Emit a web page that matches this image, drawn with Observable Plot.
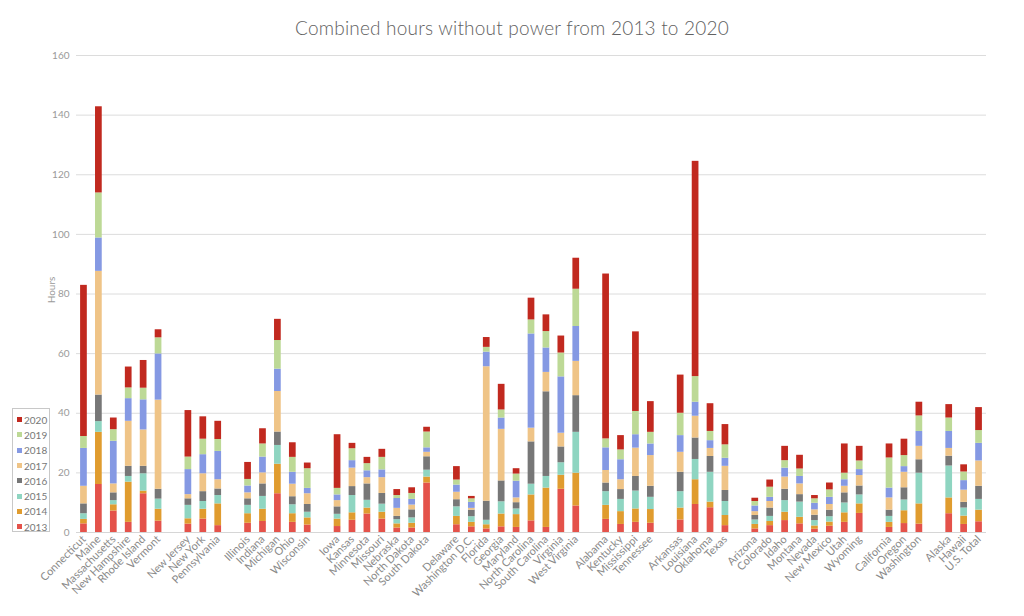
<!DOCTYPE html>
<html>
<head>
<meta charset="utf-8">
<script src="https://cdn.jsdelivr.net/npm/d3@7"></script>
<script src="https://cdn.jsdelivr.net/npm/@observablehq/plot@0.6"></script>
<style>
  body { margin: 0; background: #fff; font-family: Lato, "Open Sans", sans-serif; }
  #wrap { position: relative; width: 1024px; height: 616px; overflow: hidden; }
  #title { position: absolute; top: 16px; left: 0; width: 1024px; text-align: center;
           font-size: 19px; color: #616161; font-weight: 300; letter-spacing: 0.2px; }
  #chart { position: absolute; left: 0; top: 0; }
  #ylabel { position: absolute; left: 51px; top: 290px; transform: translate(-50%, -50%) rotate(-90deg);
            font-size: 10px; color: #9a9a9a; white-space: nowrap; }
  #legend { position: absolute; left: 12px; top: 408px; width: 38px; height: 124px;
            border: 1px solid #c8c8c8; box-sizing: border-box; padding-top: 3px; background: #fff; }
  .li { height: 15.3px; display: flex; align-items: center; font-size: 10px; color: #777; }
  .sw { width: 5px; height: 5px; margin-left: 4px; margin-right: 2px; }
</style>
</head>
<body>
<div id="wrap">
  <div id="chart"></div>
  <div id="title">Combined hours without power from 2013 to 2020</div>
  <div id="ylabel">Hours</div>
  <div id="legend"></div>
</div>
<script>
const states = [
  "Connecticut","Maine","Massachusetts","New Hampshire","Rhode Island","Vermont",
  "New Jersey","New York","Pennsylvania",
  "Illinois","Indiana","Michigan","Ohio","Wisconsin",
  "Iowa","Kansas","Minnesota","Missouri","Nebraska","North Dakota","South Dakota",
  "Delaware","Washington D.C.","Florida","Georgia","Maryland","North Carolina","South Carolina","Virginia","West Virginia",
  "Alabama","Kentucky","Mississippi","Tennessee",
  "Arkansas","Louisiana","Oklahoma","Texas",
  "Arizona","Colorado","Idaho","Montana","Nevada","New Mexico","Utah","Wyoming",
  "California","Oregon","Washington",
  "Alaska","Hawaii","U.S. Total"
];
const regions = [
  "NE","NE","NE","NE","NE","NE",
  "MA","MA","MA",
  "ENC","ENC","ENC","ENC","ENC",
  "WNC","WNC","WNC","WNC","WNC","WNC","WNC",
  "SA","SA","SA","SA","SA","SA","SA","SA","SA",
  "ESC","ESC","ESC","ESC",
  "WSC","WSC","WSC","WSC",
  "MT","MT","MT","MT","MT","MT","MT","MT",
  "PAC","PAC","PAC",
  "OTH","OTH","OTH"
];
const years = ["2013","2014","2015","2016","2017","2018","2019","2020"];
const colors = ["#e4524a","#e09c2f","#8fd5c1","#777777","#efc487","#8599e3","#bdd996","#c1291f"];

const y2013 = [2.9,16.1,7.2,3.4,13.0,3.8, 2.8,4.5,2.3, 3.1,3.7,13.0,3.4,2.5, 2.0,4.1,6.2,4.5,1.5,1.5,16.6, 2.6,1.9,1.2,1.9,1.7,3.9,1.7,14.5,8.9, 4.4,2.7,3.4,3.1, 4.2,9.4,8.3,2.3, 1.2,2.3,4.0,2.9,1.1,2.1,3.4,6.4, 1.7,3.0,2.8, 6.3,2.7,3.6];
const y2014 = [1.5,17.5,2.1,13.5,0.9,4.0, 1.8,3.3,7.3, 3.2,4.1,9.9,2.9,2.4, 2.5,2.5,2.0,2.3,1.4,1.6,2.0, 2.8,1.5,1.4,4.3,4.3,8.7,13.2,4.7,11.0, 4.7,4.3,4.5,4.6, 4.0,8.3,1.9,3.4, 1.5,1.4,2.8,2.2,1.1,1.4,3.2,3.2, 1.7,4.3,6.8, 5.3,2.8,3.9];
const y2015 = [1.9,3.6,1.4,1.9,5.8,3.4, 4.5,2.6,2.8, 2.8,4.3,6.3,3.0,1.9, 1.6,5.8,2.6,2.7,1.4,1.8,2.3, 3.2,1.9,1.5,4.1,1.9,3.6,3.9,4.2,13.7, 4.6,4.1,6.0,4.1, 5.5,6.8,10.0,4.7, 1.5,1.7,3.9,5.1,1.8,1.8,3.3,3.0, 2.0,3.6,10.3, 10.7,2.7,3.6];
const y2016 = [3.3,8.9,2.6,3.4,2.5,3.3, 2.2,3.3,2.2, 2.2,4.2,4.5,2.7,2.6, 2.5,3.0,5.5,3.6,1.1,2.7,4.5, 2.4,2.2,6.4,7.0,2.1,14.2,28.4,5.3,12.3, 2.9,3.3,4.9,3.7, 6.5,7.2,5.3,3.7, 1.5,2.8,3.8,2.5,1.8,2.2,3.4,3.0, 2.1,4.1,4.5, 3.3,1.9,4.4];
const y2017 = [5.9,41.5,3.0,15.1,12.2,29.9, 1.4,6.0,3.1, 2.0,3.7,13.6,4.2,3.6, 2.1,6.2,2.1,5.3,2.7,1.6,1.5, 2.5,0.6,45.1,17.3,1.6,4.6,6.5,4.6,11.5, 4.2,3.3,9.5,10.3, 6.7,7.3,2.7,8.1, 1.3,2.2,4.1,3.6,1.8,1.9,2.2,3.5, 4.1,5.2,4.5, 2.6,4.1,8.5];
const y2018 = [12.7,11.2,14.3,7.6,10.1,15.5, 8.4,6.4,9.5, 2.3,5.3,7.5,4.0,1.8, 1.9,2.5,2.3,2.6,3.3,1.9,1.5, 2.4,2.0,4.9,3.8,5.6,31.6,8.2,18.9,11.7, 7.6,6.7,4.5,3.9, 5.6,4.7,2.6,2.7, 1.9,1.4,3.0,2.5,2.2,2.4,2.2,2.0, 3.3,1.9,5.0, 5.7,3.2,5.9];
const y2019 = [4.0,15.1,3.9,3.6,3.9,5.4, 4.2,5.2,4.0, 2.2,4.4,9.6,5.0,6.6, 2.2,4.0,2.4,4.2,1.0,2.0,5.3, 1.7,1.2,1.6,2.7,2.4,4.7,5.5,8.0,12.5, 3.0,3.3,7.8,3.9, 7.5,8.6,3.1,4.5, 1.5,3.4,2.5,2.5,1.5,2.5,2.2,2.9, 10.1,3.7,5.2, 4.5,2.9,4.3];
const y2020 = [50.7,28.9,3.9,7.0,9.3,2.7, 15.6,7.5,6.1, 5.7,5.1,7.1,4.9,1.9, 18.0,1.8,2.1,2.7,2.0,1.9,1.6, 4.5,0.8,3.3,8.6,1.8,7.3,5.6,5.7,10.4, 55.3,4.8,26.7,10.3, 12.8,72.2,9.3,6.8, 1.1,2.4,4.8,4.6,1.1,2.3,9.8,4.9, 4.7,5.5,4.6, 4.5,2.4,7.7];
const yTicks = [0,20,40,60,80,100,120,140,160];

const series = [y2013,y2014,y2015,y2016,y2017,y2018,y2019,y2020];

// x domain with blank spacer slots between regions
const domain = [];
states.forEach((s, i) => {
  if (i > 0 && regions[i] !== regions[i - 1]) domain.push("__gap" + i);
  domain.push(s);
});

const data = [];
years.forEach((yr, k) => {
  states.forEach((s, i) => data.push({state: s, year: yr, value: series[k][i]}));
});

const chart = Plot.plot({
  width: 1024,
  height: 616,
  marginTop: 55,
  marginBottom: 84,
  marginLeft: 76,
  marginRight: 38,
  style: {fontFamily: "Lato, 'Open Sans', sans-serif", background: "#fff"},
  x: {type: "band", domain, paddingInner: 0.55, paddingOuter: 0.275, label: null},
  y: {domain: [0, 160], label: null},
  color: {domain: years, range: colors},
  marks: [
    Plot.gridY(yTicks, {stroke: "#dcdcdc", strokeOpacity: 1, strokeWidth: 1}),
    Plot.barY(data, {x: "state", y: "value", fill: "year", order: years}),
    Plot.axisY(yTicks, {tickSize: 0, tickPadding: 7, fontSize: 10, fill: "#9a9a9a", label: null}),
    Plot.axisX({tickSize: 0, tickPadding: 5, tickRotate: -45, fontSize: 11, fill: "#8a8a8a", label: null,
      tickFormat: d => d.startsWith("__gap") ? "" : d}),
    Plot.ruleY([0], {stroke: "#d6d6d6"})
  ]
});
document.getElementById("chart").appendChild(chart);

const legend = document.getElementById("legend");
for (let k = years.length - 1; k >= 0; k--) {
  const row = document.createElement("div");
  row.className = "li";
  row.innerHTML = `<span class="sw" style="background:${colors[k]}"></span><span>${years[k]}</span>`;
  legend.appendChild(row);
}
</script>
</body>
</html>
